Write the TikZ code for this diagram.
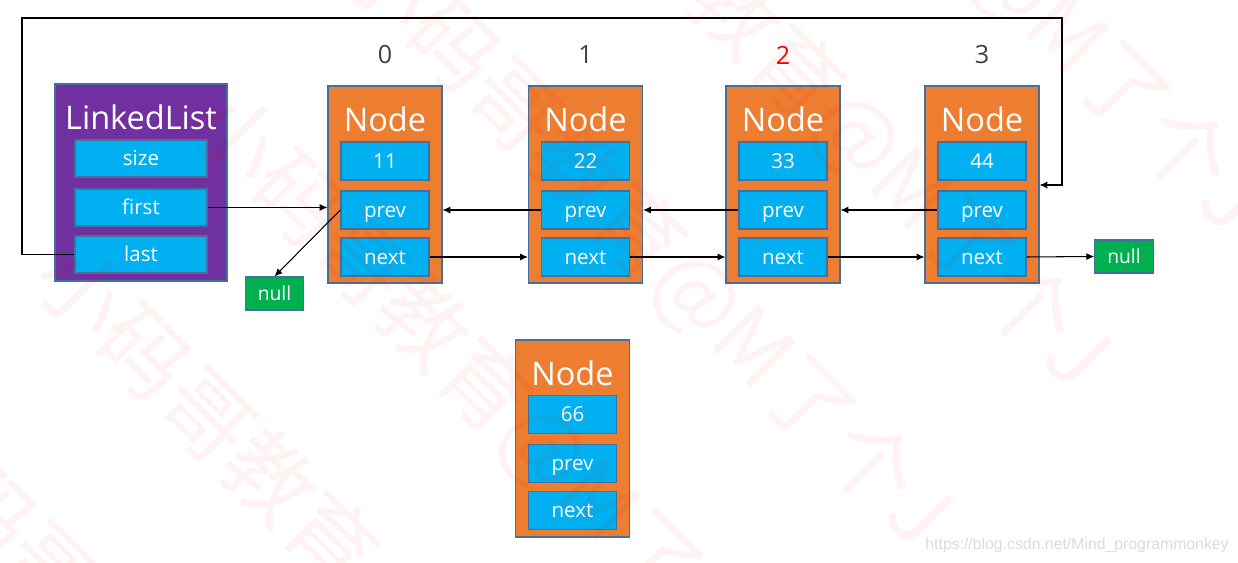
\documentclass[tikz,border=0pt]{standalone}
\usepackage{fontspec}
\setmainfont{Open Sans}
\newfontfamily\urlfont{Liberation Sans}
\newfontfamily\cjkfont{Noto Sans CJK SC}
\usetikzlibrary{arrows.meta, positioning, calc}

\definecolor{nodeorange}{HTML}{ED7D31}
\definecolor{fieldblue}{HTML}{00B0F0}
\definecolor{listpurple}{HTML}{7030A0}
\definecolor{nullgreen}{HTML}{00B050}
\definecolor{edgeblue}{HTML}{41719C}
\definecolor{idxgray}{HTML}{404040}

\tikzset{
  nodebox/.style={draw=edgeblue, fill=nodeorange, line width=0.6pt, minimum width=2.28cm, minimum height=3.94cm, inner sep=0pt},
  listbox/.style={draw=edgeblue, fill=listpurple, line width=0.6pt, minimum width=3.44cm, minimum height=3.94cm, inner sep=0pt},
  field/.style={draw=edgeblue, fill=fieldblue, text=white, line width=0.8pt, minimum width=1.76cm, minimum height=0.76cm, inner sep=0pt, text height=1em, text depth=0.2em, font=\fontsize{11.7}{12}\selectfont},
  listfield/.style={field, minimum width=2.64cm, minimum height=0.74cm},
  title/.style={text=white, inner sep=0pt, font=\fontsize{18.5}{20}\selectfont},
  nullbox/.style={draw=edgeblue, fill=nullgreen, text=white, line width=0.6pt, minimum width=1.17cm, minimum height=0.66cm, inner sep=0pt, text height=1em, text depth=0.2em, font=\fontsize{11}{12}\selectfont},
  idx/.style={inner sep=0pt, font=\fontsize{14.3}{16}\selectfont},
  arr/.style={-{Latex[length=4.5pt,width=4pt]}, line width=0.6pt},
  mark text/.style={text=red, text opacity=0.05, rotate=-45, anchor=west, inner sep=0pt, font=\cjkfont\fontsize{50}{50}\selectfont}
}

\begin{document}
\begin{tikzpicture}[x=0.02cm, y=-0.02cm]
\useasboundingbox (0,0) rectangle (1238,563);

% LinkedList object
\node[listbox] (list) at (141,182.5) {};
\node[title] (listtitle) at (141,117) {LinkedList};
\node[listfield] (size) at (141,158.5) {size};
\node[listfield] (first) at (141,207.5) {first};
\node[listfield] (last) at (141,254.5) {last};

% the four linked nodes
\foreach \i/\x/\v/\c in {0/385/11/idxgray, 1/585.5/22/idxgray, 2/783/33/red, 3/982/44/idxgray} {
  \node[nodebox] (n\i) at (\x,184.5) {};
  \node[title] (t\i) at (\x,119) {Node};
  \node[field] (d\i) at (\x,161) {\v};
  \node[field] (p\i) at (\x,210) {prev};
  \node[field] (x\i) at (\x,257) {next};
  \node[idx, text=\c] (i\i) at (\x,55) {\i};
}

% new node to insert
\node[nodebox] (n6) at (572.5,438.5) {};
\node[title] (t6) at (572.5,373) {Node};
\node[field] (d6) at (572.5,414.5) {66};
\node[field] (p6) at (572.5,463.5) {prev};
\node[field] (x6) at (572.5,510.5) {next};

% null ends
\node[nullbox] (nullL) at (274.5,293.5) {null};
\node[nullbox] (nullR) at (1124,256.5) {null};

% links
\draw[arr] (first.east) -- (first.east -| n0.west);
\draw[arr] (p0.west) -- (nullL.north);
\foreach \a/\b in {0/1, 1/2, 2/3} {
  \draw[arr] (x\a.east) -- (x\a.east -| n\b.west);
  \draw[arr] (p\b.west) -- (p\b.west -| n\a.east);
}
\draw[arr] (x3.east) -- (nullR.west);

% last -> tail
\coordinate (loopL) at (22,18);
\coordinate (loopR) at (1062,185);
\draw[arr] (last.west) -| (loopL) -| (loopR) -- (loopR -| n3.east);

% watermark
\foreach \p in {-370,-150,68,286,510,730} {
  \node[mark text] (wm\p) at ({(220+\p)*0.707},{(220-\p)*0.707}) {小码哥教育@M了个J};
}
\node[anchor=east, inner sep=0pt, text=black!14, font=\urlfont\fontsize{9}{10}\selectfont] (url) at (1229,545) {https://blog.csdn.net/Mind\_programmonkey};
\end{tikzpicture}
\end{document}
